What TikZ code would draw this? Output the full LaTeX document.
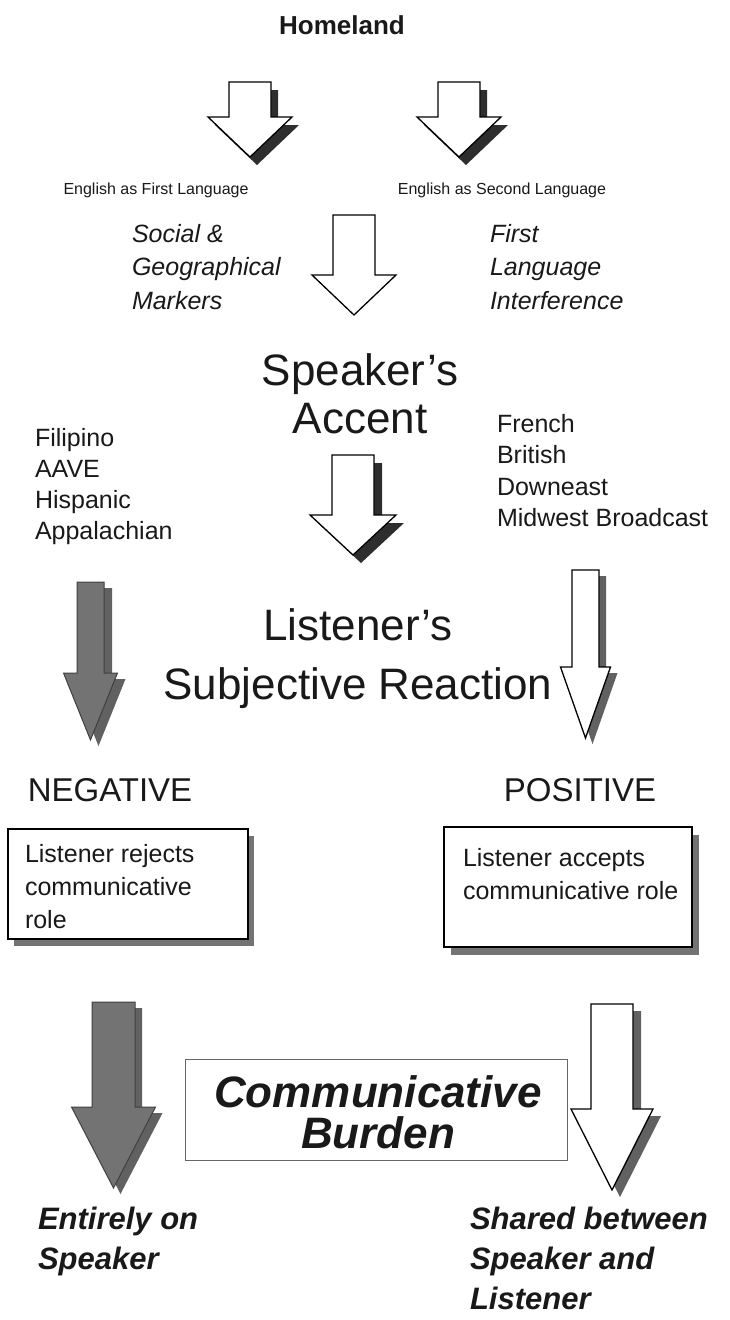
\documentclass[tikz,border=0pt]{standalone}
\usepackage{fontspec}
\setmainfont{Liberation Sans}
\newcommand\fsz[2]{\fontsize{#1}{#2}\selectfont}
% cx, top, shaft half, head y, head half, tip y, arrow style, shadow style, shadow offset
\newcommand\fatarrow[9]{%
  \begin{scope}[shift={(#9)}]
    \fill[#8] ({#1-#3},#2) -- ({#1+#3},#2) -- ({#1+#3},#4) -- ({#1+#5},#4) -- (#1,#6) -- ({#1-#5},#4) -- ({#1-#3},#4) -- cycle;
  \end{scope}
  \draw[#7] ({#1-#3},#2) -- ({#1+#3},#2) -- ({#1+#3},#4) -- ({#1+#5},#4) -- (#1,#6) -- ({#1-#5},#4) -- ({#1-#3},#4) -- cycle;
}
\tikzset{
  arrowwhite/.style={draw=black, line width=1.3pt, fill=white, line join=miter},
  arrowgray/.style={draw=black!75, line width=1pt, fill=black!55},
  shadowdark/.style={fill=black!82},
  shadowgray/.style={fill=black!62},
  shadownone/.style={fill=none},
  boxshadow/.style={fill=black!55},
  boxframe/.style={draw=black, line width=1.1pt, fill=white},
  txt/.style={inner sep=0pt, outer sep=0pt, text=black!90},
}
\begin{document}
\begin{tikzpicture}[x=1pt,y=-1pt]
\useasboundingbox (0,0) rectangle (730,1320);
\fill[white] (0,0) rectangle (730,1320);

% title
\node[txt, font=\fsz{26}{30}\bfseries] (home) at (342,25) {Homeland};

% top arrows
\fatarrow{250}{82}{21}{117}{42}{157}{arrowwhite}{shadowdark}{7,8}
\fatarrow{459}{82}{21}{117}{42}{157}{arrowwhite}{shadowdark}{7,8}

\node[txt, font=\fsz{16}{19}] (efl) at (156,190) {English as First Language};
\node[txt, font=\fsz{16}{19}] (esl) at (502,190) {English as Second Language};

\node[txt, font=\fsz{25}{33.5}\itshape, align=left, anchor=north west] (sgm) at (132,224) {Social \&\\Geographical\\Markers};
\node[txt, font=\fsz{25}{33.5}\itshape, align=left, anchor=north west] (fli) at (490,224) {First\\Language\\Interference};

\fatarrow{354}{215}{21}{275}{42}{315}{arrowwhite}{shadownone}{0,0}

\node[txt, font=\fsz{44}{48}, align=center] (acc) at (360,394) {Speaker’s\\Accent};

\node[txt, font=\fsz{25}{31}, align=left, anchor=north west] (neglist) at (35,428) {Filipino\\AAVE\\Hispanic\\Appalachian};
\node[txt, font=\fsz{25}{31.5}, align=left, anchor=north west] (poslist) at (497,414) {French\\British\\Downeast\\Midwest Broadcast};

\fatarrow{353}{455}{21}{515}{43}{555}{arrowwhite}{shadowdark}{8,8}

\node[txt, font=\fsz{44}{48}] (lis) at (358,625) {Listener’s};
\node[txt, font=\fsz{44}{48}] (subj) at (358,688) {Subjective Reaction};

\fatarrow{90.5}{582}{13.5}{673}{27}{740}{arrowgray}{shadowgray}{8,6}
\fatarrow{585.5}{570}{13.5}{667}{25}{738}{arrowwhite}{shadowgray}{7,6}

\node[txt, font=\fsz{33}{36}] (neg) at (110,790) {NEGATIVE};
\node[txt, font=\fsz{33}{36}] (pos) at (580,790) {POSITIVE};

% boxes
\fill[boxshadow] (14,836) rectangle (254,946);
\draw[boxframe] (8,829) rectangle (248,939);
\node[txt, font=\fsz{25}{33}, align=left, anchor=north west] (rej) at (25,844) {Listener rejects\\communicative\\role};

\fill[boxshadow] (451,835) rectangle (699,955);
\draw[boxframe] (444,827) rectangle (692,947);
\node[txt, font=\fsz{25}{33}, align=left, anchor=north west] (acp) at (463,848) {Listener accepts\\communicative role};

% bottom arrows
\fatarrow{113.5}{1002}{21.5}{1107}{42}{1188}{arrowgray}{shadowgray}{7,6}
\fatarrow{612}{1004}{21}{1109}{41}{1190}{arrowwhite}{shadowgray}{8,7}

\draw[draw=black!60, line width=0.8pt] (185,1059) rectangle (567,1160);
\node[txt, font=\fsz{44}{41}\bfseries\itshape, align=center] (burden) at (378,1112) {Communicative\\Burden};

\node[txt, font=\fsz{31}{40}\bfseries\itshape, align=left, anchor=north west] (spk) at (38,1207) {Entirely on\\Speaker};
\node[txt, font=\fsz{31}{40}\bfseries\itshape, align=left, anchor=north west] (shr) at (470,1207) {Shared between\\Speaker and\\Listener};
\end{tikzpicture}
\end{document}
